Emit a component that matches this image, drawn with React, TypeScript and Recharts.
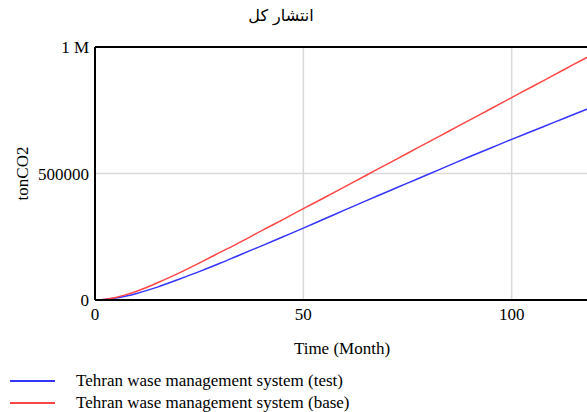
import React from "react";
import {
  LineChart,
  Line,
  XAxis,
  YAxis,
  CartesianGrid,
  ReferenceLine,
  Legend,
  Label,
} from "recharts";

// Simulation output (tonCO2); finer sampling over the first months
const months = [
  0, 2.5, 5, 7.5, 10, 12.5, 15, 20, 25, 30, 35, 40, 45, 50, 55, 60, 65, 70,
  75, 80, 85, 90, 95, 100, 105, 110, 115, 120,
];

const testValues = [
  0, 2000, 7600, 15800, 26000, 38000, 51000, 81000, 112000, 145000, 180000,
  214000, 249000, 284000, 320000, 356000, 392000, 427000, 462000, 497000,
  532000, 567000, 601000, 635000, 668000, 701000, 734000, 767000,
];

const baseValues = [
  0, 2800, 10200, 21200, 34900, 50500, 68000, 105000, 146000, 188000, 230000,
  274000, 317000, 361000, 404000, 448000, 492000, 536000, 580000, 624000,
  668000, 712000, 756000, 800000, 844000, 888000, 932000, 976000,
];

const xTicks = [0, 50, 100];
const yTicks = [0, 500000, 1000000];

const seriesNames = {
  test: "Tehran wase management system (test)",
  base: "Tehran wase management system (base)",
};

const BLUE = "#3535ff";
const RED = "#ff4646";
const SERIF = "'Liberation Serif', 'Times New Roman', serif";
const FONT_SIZE = 17;

const rows = months.map((t, i) => ({
  t,
  test: testValues[i],
  base: baseValues[i],
}));

const formatY = (v: number) => (v >= 1000000 ? `${v / 1000000} M` : `${v}`);

const LegendBox = () => (
  <div style={{ paddingTop: 6, fontFamily: SERIF, fontSize: FONT_SIZE, color: "#000" }}>
    {[
      { name: seriesNames.test, color: BLUE },
      { name: seriesNames.base, color: RED },
    ].map((item) => (
      <div
        key={item.name}
        style={{ display: "flex", alignItems: "center", height: 22 }}
      >
        <div
          style={{
            marginLeft: 2,
            width: 45,
            height: 2,
            background: item.color,
          }}
        />
        <span style={{ marginLeft: 21, whiteSpace: "nowrap" }}>{item.name}</span>
      </div>
    ))}
  </div>
);

export default function App() {
  return (
    <div
      style={{
        position: "fixed",
        left: 0,
        top: 0,
        width: 587,
        height: 412,
        overflow: "hidden",
        background: "#fff",
      }}
    >
      <div
        style={{
          position: "absolute",
          left: 8,
          top: 6,
          width: 546,
          textAlign: "center",
          fontFamily: "'DejaVu Sans', sans-serif",
          fontSize: 16,
          color: "#000",
          zIndex: 1,
        }}
      >
        انتشار کل
      </div>
      <div style={{ position: "absolute", left: 8, top: 8 }}>
        <LineChart
          width={600}
          height={404}
          data={rows}
          margin={{ top: 39, right: 13, bottom: 0, left: 0 }}
        >
          <CartesianGrid stroke="#d9d9d9" strokeWidth={1.5} />
          <XAxis
            dataKey="t"
            type="number"
            domain={[0, 120]}
            ticks={xTicks}
            height={64}
            tickLine={false}
            tickSize={6}
            tickMargin={2}
            axisLine={{ stroke: "#000", strokeWidth: 2 }}
            tick={{ fill: "#000", fontFamily: SERIF, fontSize: FONT_SIZE }}
          >
            <Label
              content={({ viewBox }: any) => (
                <text
                  x={viewBox.x + 247}
                  y={viewBox.y + 48}
                  textAnchor="middle"
                  dominantBaseline="central"
                  fontFamily={SERIF}
                  fontSize={FONT_SIZE}
                  fill="#000"
                >
                  Time (Month)
                </text>
              )}
            />
          </XAxis>
          <YAxis
            type="number"
            domain={[0, 1000000]}
            ticks={yTicks}
            width={87}
            tickLine={false}
            tickSize={4}
            tickMargin={2}
            tickFormatter={formatY}
            axisLine={{ stroke: "#000", strokeWidth: 2 }}
            tick={{ fill: "#000", fontFamily: SERIF, fontSize: FONT_SIZE }}
          >
            <Label
              content={({ viewBox }: any) => {
                const cx = 14;
                const cy = viewBox.y + viewBox.height / 2;
                return (
                  <text
                    x={cx}
                    y={cy}
                    transform={`rotate(-90 ${cx} ${cy})`}
                    textAnchor="middle"
                    dominantBaseline="central"
                    fontFamily={SERIF}
                    fontSize={FONT_SIZE}
                    fill="#000"
                  >
                    tonCO2
                  </text>
                );
              }}
            />
          </YAxis>
          <ReferenceLine y={1000000} stroke="#000" strokeWidth={2} />
          <Line
            dataKey="test"
            name={seriesNames.test}
            type="monotone"
            stroke={BLUE}
            strokeWidth={1.5}
            dot={false}
            isAnimationActive={false}
          />
          <Line
            dataKey="base"
            name={seriesNames.base}
            type="monotone"
            stroke={RED}
            strokeWidth={1.5}
            dot={false}
            isAnimationActive={false}
          />
          <Legend
            verticalAlign="bottom"
            align="left"
            layout="horizontal"
            height={48}
            content={() => <LegendBox />}
          />
        </LineChart>
      </div>
    </div>
  );
}
